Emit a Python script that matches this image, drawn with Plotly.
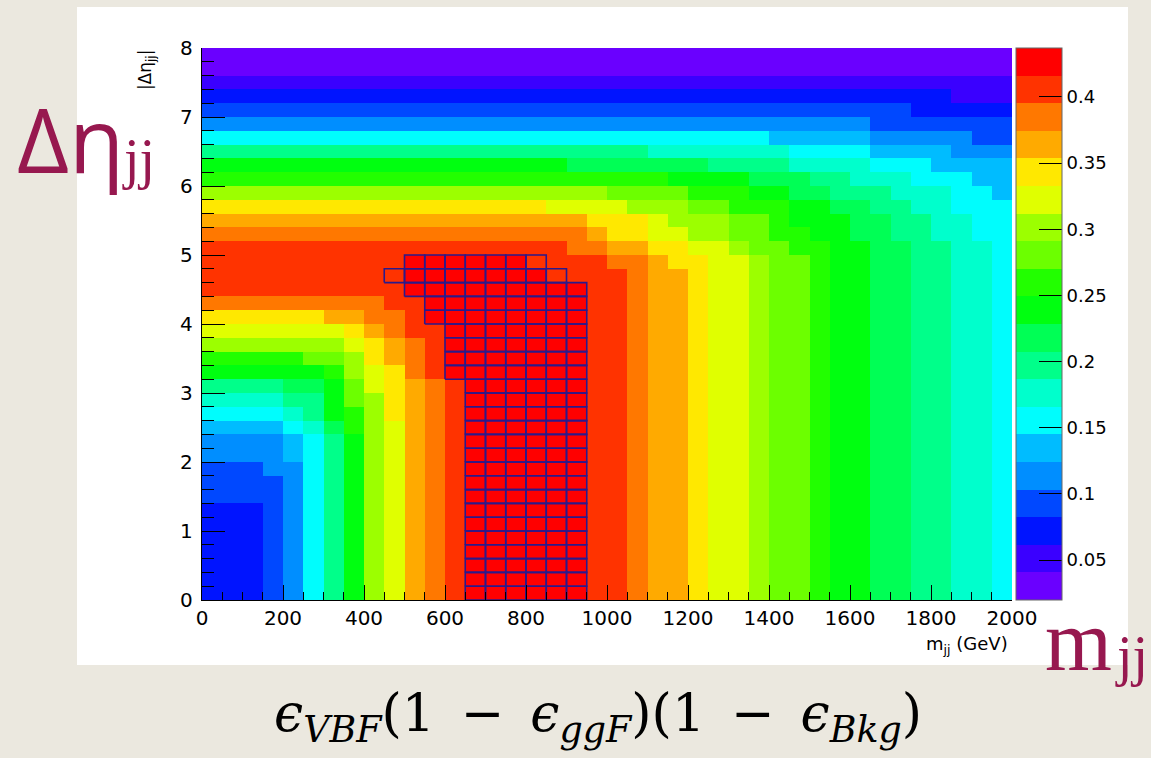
import plotly.graph_objects as go

# Binning of the scan: m_jj cut in 50 GeV steps, |Δη_jj| cut in 0.2 steps
mjj_edges = [50 * i for i in range(41)]
deta_edges = [round(0.2 * i, 1) for i in range(41)]

# Figure of merit eps_VBF (1 - eps_ggF)(1 - eps_Bkg) per cell.
# Rows listed from the top |Δη| bin (7.8-8.0) down to the bottom one (0-0.2),
# columns from m_jj = 0 to 2000 GeV.
merit_top_down = [
    [.03,.03,.03,.03,.03,.03,.03,.03,.03,.03, .03,.03,.03,.03,.03,.03,.03,.03,.03,.03, .03,.03,.03,.03,.03,.03,.03,.03,.03,.03, .03,.03,.03,.03,.03,.03,.03,.03,.03,.03],
    [.03,.03,.03,.03,.03,.03,.03,.03,.03,.03, .03,.03,.03,.03,.03,.03,.03,.03,.03,.03, .03,.03,.03,.03,.03,.03,.03,.03,.03,.03, .03,.03,.03,.03,.03,.03,.03,.03,.03,.03],
    [.05,.05,.05,.05,.05,.05,.05,.05,.05,.05, .05,.05,.05,.05,.05,.05,.05,.05,.05,.05, .05,.05,.05,.05,.05,.05,.05,.05,.05,.05, .05,.05,.05,.05,.05,.05,.05,.05,.05,.05],
    [.07,.07,.07,.07,.07,.07,.07,.07,.07,.07, .07,.07,.07,.07,.07,.07,.07,.07,.07,.07, .07,.07,.07,.07,.07,.07,.07,.07,.07,.07, .07,.07,.07,.07,.07,.07,.07,.05,.05,.05],
    [.09,.09,.09,.09,.09,.09,.09,.09,.09,.09, .09,.09,.09,.09,.09,.09,.09,.09,.09,.09, .09,.09,.09,.09,.09,.09,.09,.09,.09,.09, .09,.09,.09,.09,.09,.07,.07,.07,.07,.07],
    [.11,.11,.11,.11,.11,.11,.11,.11,.11,.11, .11,.11,.11,.11,.11,.11,.11,.11,.11,.11, .11,.11,.11,.11,.11,.11,.11,.11,.11,.11, .11,.11,.11,.09,.09,.09,.09,.09,.09,.09],
    [.16,.16,.16,.16,.16,.16,.16,.16,.16,.16, .16,.16,.16,.16,.16,.16,.16,.16,.16,.16, .16,.16,.16,.16,.16,.16,.16,.16,.13,.13, .13,.13,.13,.11,.11,.11,.11,.11,.09,.09],
    [.20,.20,.20,.20,.20,.20,.20,.20,.20,.20, .20,.20,.20,.20,.20,.20,.20,.20,.20,.20, .20,.20,.18,.18,.18,.18,.18,.18,.18,.16, .16,.16,.16,.13,.13,.13,.13,.11,.11,.11],
    [.24,.24,.24,.24,.24,.24,.24,.24,.24,.24, .24,.24,.24,.24,.24,.24,.24,.24,.22,.22, .22,.22,.22,.22,.22,.20,.20,.20,.20,.18, .18,.18,.18,.16,.16,.16,.13,.13,.13,.13],
    [.26,.26,.26,.26,.26,.26,.26,.26,.26,.26, .26,.26,.26,.26,.26,.26,.26,.26,.26,.26, .26,.26,.26,.24,.24,.24,.24,.22,.22,.22, .20,.20,.18,.18,.18,.16,.16,.16,.13,.13],
    [.30,.30,.30,.30,.30,.30,.30,.30,.30,.30, .30,.30,.30,.30,.30,.30,.30,.30,.30,.30, .28,.28,.28,.28,.26,.26,.26,.24,.24,.22, .22,.20,.20,.20,.18,.18,.18,.16,.16,.13],
    [.34,.34,.34,.34,.34,.34,.34,.34,.34,.34, .34,.34,.34,.34,.34,.34,.34,.32,.32,.32, .32,.30,.30,.30,.28,.28,.26,.26,.26,.24, .24,.22,.22,.20,.20,.18,.18,.16,.16,.16],
    [.36,.36,.36,.36,.36,.36,.36,.36,.36,.36, .36,.36,.36,.36,.36,.36,.36,.36,.36,.34, .34,.34,.32,.30,.30,.30,.28,.28,.26,.24, .24,.24,.22,.22,.20,.20,.18,.18,.16,.16],
    [.38,.38,.38,.38,.38,.38,.38,.38,.38,.38, .38,.38,.38,.38,.38,.38,.38,.38,.38,.36, .34,.34,.32,.32,.30,.30,.28,.28,.26,.26, .24,.24,.22,.22,.20,.20,.18,.18,.16,.16],
    [.41,.41,.41,.41,.41,.41,.41,.41,.41,.41, .41,.41,.41,.41,.41,.41,.41,.41,.38,.38, .36,.36,.34,.34,.32,.32,.30,.28,.28,.26, .26,.24,.24,.22,.22,.20,.20,.18,.18,.16],
    [.41,.41,.41,.41,.41,.41,.41,.41,.41,.41, .43,.43,.43,.43,.43,.43,.41,.41,.41,.41, .38,.38,.36,.34,.34,.32,.32,.30,.28,.28, .26,.24,.24,.22,.22,.20,.20,.18,.18,.16],
    [.41,.41,.41,.41,.41,.41,.41,.41,.41,.41, .43,.43,.43,.43,.43,.43,.43,.41,.41,.41, .41,.38,.36,.36,.34,.32,.32,.30,.28,.28, .26,.24,.24,.22,.22,.20,.20,.18,.18,.16],
    [.41,.41,.41,.41,.41,.41,.41,.41,.41,.41, .43,.43,.43,.43,.43,.43,.43,.43,.43,.41, .41,.38,.36,.36,.34,.32,.32,.30,.28,.28, .26,.24,.24,.22,.22,.20,.20,.18,.18,.16],
    [.38,.38,.38,.38,.38,.38,.38,.38,.38,.41, .41,.43,.43,.43,.43,.43,.43,.43,.43,.41, .41,.38,.36,.36,.34,.32,.32,.30,.28,.28, .26,.24,.24,.22,.22,.20,.20,.18,.18,.16],
    [.34,.34,.34,.34,.34,.34,.36,.36,.38,.38, .41,.43,.43,.43,.43,.43,.43,.43,.43,.41, .41,.38,.36,.36,.34,.32,.32,.30,.28,.28, .26,.24,.24,.22,.22,.20,.20,.18,.18,.16],
    [.32,.32,.32,.32,.32,.32,.32,.34,.36,.38, .41,.41,.43,.43,.43,.43,.43,.43,.43,.41, .41,.38,.36,.36,.34,.32,.32,.30,.28,.28, .26,.24,.24,.22,.22,.20,.20,.18,.18,.16],
    [.30,.30,.30,.30,.30,.30,.30,.32,.34,.36, .38,.41,.43,.43,.43,.43,.43,.43,.43,.41, .41,.38,.36,.36,.34,.32,.32,.30,.28,.28, .26,.24,.24,.22,.22,.20,.20,.18,.18,.16],
    [.26,.26,.26,.26,.26,.28,.28,.30,.34,.36, .38,.41,.43,.43,.43,.43,.43,.43,.43,.41, .41,.38,.36,.36,.34,.32,.32,.30,.28,.28, .26,.24,.24,.22,.22,.20,.20,.18,.18,.16],
    [.24,.24,.24,.24,.24,.24,.26,.30,.32,.34, .38,.41,.43,.43,.43,.43,.43,.43,.43,.41, .41,.38,.36,.36,.34,.32,.32,.30,.28,.28, .26,.24,.24,.22,.22,.20,.20,.18,.18,.16],
    [.20,.20,.20,.20,.22,.22,.24,.28,.32,.34, .36,.38,.41,.43,.43,.43,.43,.43,.43,.41, .41,.38,.36,.36,.34,.32,.32,.30,.28,.28, .26,.24,.24,.22,.22,.20,.20,.18,.18,.16],
    [.18,.18,.18,.18,.20,.20,.24,.28,.30,.34, .36,.38,.41,.43,.43,.43,.43,.43,.43,.41, .41,.38,.36,.36,.34,.32,.32,.30,.28,.28, .26,.24,.24,.22,.22,.20,.20,.18,.18,.16],
    [.16,.16,.16,.16,.18,.20,.24,.26,.30,.34, .36,.38,.41,.43,.43,.43,.43,.43,.43,.41, .41,.38,.36,.36,.34,.32,.32,.30,.28,.28, .26,.24,.24,.22,.22,.20,.20,.18,.18,.16],
    [.13,.13,.13,.13,.16,.18,.22,.26,.30,.32, .36,.38,.41,.43,.43,.43,.43,.43,.43,.41, .41,.38,.36,.36,.34,.32,.32,.30,.28,.28, .26,.24,.24,.22,.22,.20,.20,.18,.18,.16],
    [.11,.11,.11,.11,.13,.16,.20,.24,.30,.32, .36,.38,.41,.43,.43,.43,.43,.43,.43,.41, .41,.38,.36,.36,.34,.32,.32,.30,.28,.28, .26,.24,.24,.22,.22,.20,.20,.18,.18,.16],
    [.11,.11,.11,.11,.13,.16,.20,.24,.30,.32, .36,.38,.41,.43,.43,.43,.43,.43,.43,.41, .41,.38,.36,.36,.34,.32,.32,.30,.28,.28, .26,.24,.24,.22,.22,.20,.20,.18,.18,.16],
    [.09,.09,.09,.11,.11,.16,.20,.24,.30,.32, .36,.38,.41,.43,.43,.43,.43,.43,.43,.41, .41,.38,.36,.36,.34,.32,.32,.30,.28,.28, .26,.24,.24,.22,.22,.20,.20,.18,.18,.16],
    [.09,.09,.09,.09,.11,.16,.20,.24,.30,.32, .36,.38,.41,.43,.43,.43,.43,.43,.43,.41, .41,.38,.36,.36,.34,.32,.32,.30,.28,.28, .26,.24,.24,.22,.22,.20,.20,.18,.18,.16],
    [.09,.09,.09,.09,.11,.16,.20,.24,.30,.32, .36,.38,.41,.43,.43,.43,.43,.43,.43,.41, .41,.38,.36,.36,.34,.32,.32,.30,.28,.28, .26,.24,.24,.22,.22,.20,.20,.18,.18,.16],
    [.07,.07,.07,.09,.11,.16,.20,.24,.30,.32, .36,.38,.41,.43,.43,.43,.43,.43,.43,.41, .41,.38,.36,.36,.34,.32,.32,.30,.28,.28, .26,.24,.24,.22,.22,.20,.20,.18,.18,.16],
    [.07,.07,.07,.09,.11,.16,.20,.24,.30,.32, .36,.38,.41,.43,.43,.43,.43,.43,.43,.41, .41,.38,.36,.36,.34,.32,.32,.30,.28,.28, .26,.24,.24,.22,.22,.20,.20,.18,.18,.16],
    [.07,.07,.07,.09,.11,.16,.20,.24,.30,.32, .36,.38,.41,.43,.43,.43,.43,.43,.43,.41, .41,.38,.36,.36,.34,.32,.32,.30,.28,.28, .26,.24,.24,.22,.22,.20,.20,.18,.18,.16],
    [.07,.07,.07,.09,.11,.16,.20,.24,.30,.32, .36,.38,.41,.43,.43,.43,.43,.43,.43,.41, .41,.38,.36,.36,.34,.32,.32,.30,.28,.28, .26,.24,.24,.22,.22,.20,.20,.18,.18,.16],
    [.07,.07,.07,.09,.11,.16,.20,.24,.30,.32, .36,.38,.41,.43,.43,.43,.43,.43,.43,.41, .41,.38,.36,.36,.34,.32,.32,.30,.28,.28, .26,.24,.24,.22,.22,.20,.20,.18,.18,.16],
    [.07,.07,.07,.09,.11,.16,.20,.24,.30,.32, .36,.38,.41,.43,.43,.43,.43,.43,.43,.41, .41,.38,.36,.36,.34,.32,.32,.30,.28,.28, .26,.24,.24,.22,.22,.20,.20,.18,.18,.16],
    [.07,.07,.07,.09,.11,.16,.20,.24,.30,.32, .36,.38,.41,.43,.43,.43,.43,.43,.43,.41, .41,.38,.36,.36,.34,.32,.32,.30,.28,.28, .26,.24,.24,.22,.22,.20,.20,.18,.18,.16],
]
merit = merit_top_down[::-1]
assert len(merit) == 40 and all(len(row) == 40 for row in merit)

# Cells of the selected working region (outlined boxes): Δη range, m_jj range
box_deta_lo = [0.0, 3.2, 4.0, 4.4, 4.6, 4.8]
box_deta_hi = [3.2, 4.0, 4.4, 4.6, 4.8, 5.0]
box_mjj_lo = [650, 600, 550, 500, 450, 500]
box_mjj_hi = [950, 950, 950, 950, 900, 850]

# Colorbar scale limits and tick labels
z_lo, z_hi = 0.0198, 0.437
cbar_ticks = [0.05, 0.1, 0.15, 0.2, 0.25, 0.3, 0.35, 0.4]

# 20-level rainbow palette (violet -> red)
palette = ["#6a00ff", "#3a00ff", "#0014ff", "#0048ff", "#008eff", "#00bcff",
           "#00fdfd", "#00ffcc", "#00ff8a", "#00ff55", "#00ff10", "#22ff00",
           "#6cff00", "#9cff00", "#e0ff00", "#ffe800", "#ffaa00", "#ff7800",
           "#ff3300", "#ff0000"]
n = len(palette)
colorscale = []
for k, c in enumerate(palette):
    colorscale.append([k / n, c])
    colorscale.append([(k + 1) / n, c])

sans = "DejaVu Sans, Liberation Sans, Arial"
serif = "Liberation Serif, DejaVu Serif, serif"

heat = go.Heatmap(
    x=mjj_edges, y=deta_edges, z=merit,
    zmin=z_lo, zmax=z_hi, colorscale=colorscale,
    colorbar=dict(
        x=1.0049, xanchor="left", xpad=0, y=0.5, yanchor="middle",
        len=1, lenmode="fraction", ypad=0, thickness=46,
        outlinewidth=1, outlinecolor="#666666",
        tickvals=cbar_ticks, ticktext=[f"{t:g}" for t in cbar_ticks],
        ticks="inside", ticklen=23, tickwidth=1.4, tickcolor="black",
        tickfont=dict(family=sans, size=18, color="black"),
    ),
    hoverinfo="skip",
)

# Outline every cell of the selected region
bx, by = [], []
for dlo, dhi, mlo, mhi in zip(box_deta_lo, box_deta_hi, box_mjj_lo, box_mjj_hi):
    ys = [e for e in deta_edges if dlo - 1e-9 <= e <= dhi + 1e-9]
    xs = [e for e in mjj_edges if mlo <= e <= mhi]
    for y0, y1 in zip(ys[:-1], ys[1:]):
        for x0, x1 in zip(xs[:-1], xs[1:]):
            bx += [x0, x1, x1, x0, x0, None]
            by += [y0, y0, y1, y1, y0, None]

boxes = go.Scatter(x=bx, y=by, mode="lines",
                   line=dict(color="#2a1a8c", width=1.6),
                   hoverinfo="skip", showlegend=False)

fig = go.Figure([heat, boxes])

axis_font = dict(family=sans, size=20, color="black")
fig.update_layout(
    width=1151, height=758,
    margin=dict(l=202, r=139, t=48, b=158),
    paper_bgcolor="#ebe8df", plot_bgcolor="white",
    showlegend=False,
    xaxis=dict(range=[0, 2000], tickvals=list(range(0, 2001, 200)),
               ticks="inside", ticklen=15, tickwidth=1.4, tickcolor="black",
               minor=dict(dtick=50, ticks="inside", ticklen=8, tickwidth=1.2, tickcolor="black"),
               showline=True, linecolor="black", linewidth=1.4,
               showgrid=False, zeroline=False, tickfont=axis_font, ticklabelstandoff=0),
    yaxis=dict(range=[0, 8], tickvals=list(range(0, 9)),
               ticks="inside", ticklen=23, tickwidth=1.4, tickcolor="black",
               minor=dict(dtick=0.2, ticks="inside", ticklen=12, tickwidth=1.2, tickcolor="black"),
               showline=True, linecolor="black", linewidth=1.4,
               showgrid=False, zeroline=False, tickfont=axis_font, ticklabelstandoff=4),
)

# White canvas behind the plot
fig.add_shape(type="rect", xref="paper", yref="paper",
              x0=-0.1543, x1=1.1432, y0=-0.1178, y1=1.0743,
              fillcolor="white", line=dict(width=0), layer="below")

maroon = "#97184f"
fig.add_annotation(text="|Δη<sub>jj</sub>|", textangle=-90, xref="paper", yref="paper",
                   x=-0.069, y=1.0, xanchor="center", yanchor="top", showarrow=False,
                   font=dict(family=sans, size=17, color="black"))
fig.add_annotation(text="m<sub>jj</sub> (GeV)", xref="paper", yref="paper",
                   x=0.9975, y=-0.081, xanchor="right", yanchor="middle", showarrow=False,
                   font=dict(family=sans, size=18, color="black"))
fig.add_annotation(text="Δη", xref="paper", yref="paper",
                   x=-0.2309, y=0.837, xanchor="left", yanchor="middle", showarrow=False,
                   font=dict(family="Open Sans, Noto Sans, DejaVu Sans", size=90, color=maroon))
fig.add_annotation(text="jj", xref="paper", yref="paper",
                   x=-0.1012, y=0.799, xanchor="left", yanchor="middle", showarrow=False,
                   font=dict(family=serif, size=56, color=maroon))
fig.add_annotation(text="m", xref="paper", yref="paper",
                   x=1.0385, y=-0.0734, xanchor="left", yanchor="middle", showarrow=False,
                   font=dict(family=serif, size=86, color=maroon))
fig.add_annotation(text="jj", xref="paper", yref="paper",
                   x=1.148, y=-0.1014, xanchor="center", yanchor="middle", showarrow=False,
                   font=dict(family=serif, size=56, color=maroon))
fig.add_annotation(
    text="<i>ϵ</i><sub><i>VBF</i></sub>(1\u2002−\u2002<i>ϵ</i><sub><i>ggF</i></sub>)"
         "(1\u2002−\u2002<i>ϵ</i><sub><i>Bkg</i></sub>)",
    xref="paper", yref="paper", x=0.489, y=-0.212, xanchor="center", yanchor="middle",
    showarrow=False, font=dict(family="DejaVu Serif, Liberation Serif, serif", size=52, color="black"))

fig.write_html("out.html")
